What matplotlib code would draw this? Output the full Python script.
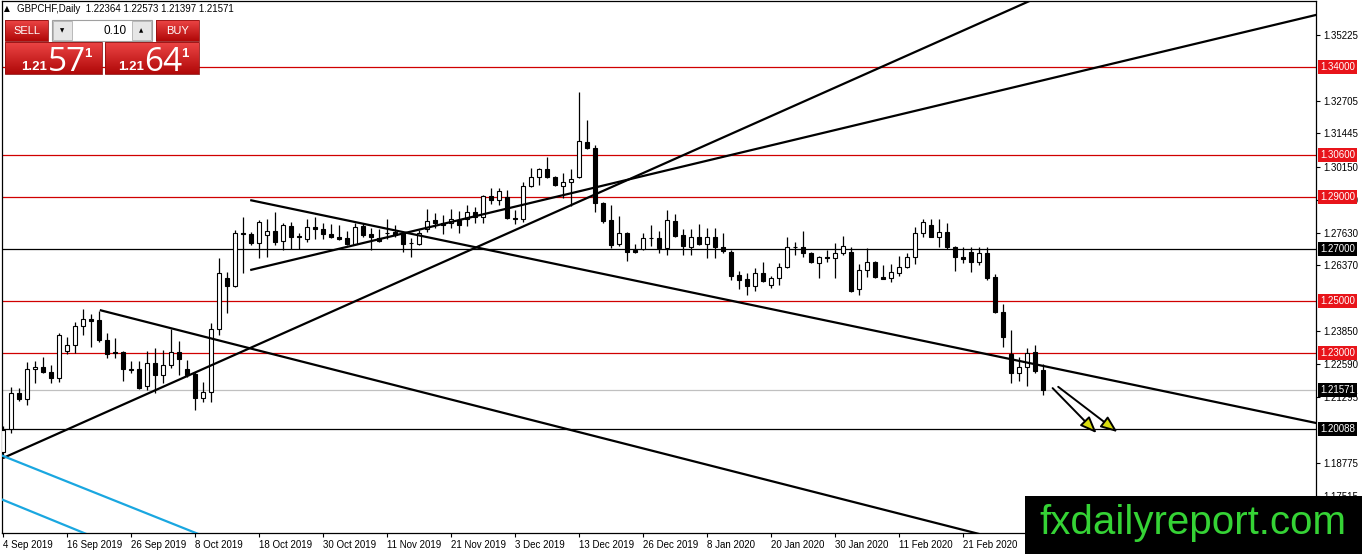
import matplotlib
matplotlib.use("Agg")
import matplotlib.pyplot as plt
import matplotlib.transforms as mtransforms
from matplotlib.patches import Rectangle, FancyArrowPatch, ArrowStyle
from matplotlib.colors import LinearSegmentedColormap
import numpy as np

plt.rcParams["font.family"] = ["Liberation Sans", "DejaVu Sans"]

SYMBOL = "GBPCHF,Daily"
HEADER_OHLC = "1.22364 1.22573 1.21397 1.21571"

# --- daily GBPCHF candles, 4 Sep 2019 .. early Mar 2020 ---
opens = [
    1.1919, 1.2008, 1.2146, 1.2123, 1.2238, 1.2246, 1.2227, 1.2204, 1.2308, 1.2331,
    1.2404, 1.2431, 1.2427, 1.2350, 1.2304, 1.2304, 1.2238, 1.2238, 1.2173, 1.2262,
    1.2215, 1.2254, 1.2304, 1.2238, 1.2219, 1.2127, 1.2150, 1.2392, 1.2588, 1.2558,
    1.2762, 1.2758, 1.2723, 1.2754, 1.2769, 1.2731, 1.2788, 1.2750, 1.2738, 1.2785,
    1.2777, 1.2758, 1.2746, 1.2742, 1.2719, 1.2788, 1.2758, 1.2742, 1.2762, 1.2765,
    1.2762, 1.2723, 1.2719, 1.2777, 1.2812, 1.2800, 1.2800, 1.2812, 1.2815, 1.2842,
    1.2823, 1.2904, 1.2888, 1.2900, 1.2819, 1.2815, 1.2942, 1.2977, 1.3008, 1.2977,
    1.2942, 1.2958, 1.2977, 1.3112, 1.3088, 1.2877, 1.2812, 1.2719, 1.2762, 1.2696,
    1.2700, 1.2742, 1.2742, 1.2704, 1.2808, 1.2754, 1.2708, 1.2746, 1.2719, 1.2746,
    1.2708, 1.2688, 1.2600, 1.2585, 1.2558, 1.2608, 1.2562, 1.2588, 1.2631, 1.2708,
    1.2708, 1.2685, 1.2646, 1.2669, 1.2665, 1.2685, 1.2688, 1.2546, 1.2619, 1.2650,
    1.2592, 1.2588, 1.2608, 1.2631, 1.2669, 1.2762, 1.2792, 1.2746, 1.2765, 1.2708,
    1.2669, 1.2688, 1.2650, 1.2685, 1.2592, 1.2458, 1.2296, 1.2223, 1.2246, 1.2304,
    1.22364,
]
highs = [
    1.2019, 1.2169, 1.2165, 1.2265, 1.2269, 1.2285, 1.2254, 1.2377, 1.2362, 1.2419,
    1.2469, 1.2450, 1.2462, 1.2377, 1.2358, 1.2308, 1.2269, 1.2269, 1.2308, 1.2319,
    1.2312, 1.2392, 1.2346, 1.2273, 1.2227, 1.2188, 1.2415, 1.2665, 1.2612, 1.2773,
    1.2823, 1.2765, 1.2812, 1.2815, 1.2842, 1.2800, 1.2804, 1.2762, 1.2815, 1.2823,
    1.2800, 1.2796, 1.2792, 1.2769, 1.2800, 1.2800, 1.2781, 1.2777, 1.2815, 1.2792,
    1.2765, 1.2742, 1.2773, 1.2854, 1.2838, 1.2831, 1.2854, 1.2846, 1.2869, 1.2862,
    1.2908, 1.2935, 1.2935, 1.2927, 1.2850, 1.2958, 1.3012, 1.3012, 1.3054, 1.2980,
    1.2992, 1.3008, 1.3304, 1.3196, 1.3100, 1.2881, 1.2869, 1.2827, 1.2765, 1.2719,
    1.2762, 1.2792, 1.2769, 1.2850, 1.2835, 1.2777, 1.2777, 1.2796, 1.2781, 1.2781,
    1.2762, 1.2696, 1.2615, 1.2608, 1.2627, 1.2650, 1.2596, 1.2646, 1.2746, 1.2727,
    1.2769, 1.2688, 1.2673, 1.2696, 1.2723, 1.2750, 1.2708, 1.2642, 1.2704, 1.2654,
    1.2638, 1.2642, 1.2673, 1.2685, 1.2785, 1.2815, 1.2815, 1.2815, 1.2800, 1.2712,
    1.2708, 1.2708, 1.2708, 1.2708, 1.2604, 1.2488, 1.2388, 1.2285, 1.2319, 1.2331,
    1.22573,
]
lows = [
    1.1896, 1.1992, 1.2115, 1.2100, 1.2185, 1.2223, 1.2185, 1.2188, 1.2296, 1.2300,
    1.2369, 1.2323, 1.2342, 1.2281, 1.2281, 1.2192, 1.2223, 1.2162, 1.2158, 1.2146,
    1.2185, 1.2242, 1.2215, 1.2208, 1.2081, 1.2112, 1.2112, 1.2369, 1.2454, 1.2555,
    1.2608, 1.2715, 1.2665, 1.2669, 1.2715, 1.2696, 1.2700, 1.2700, 1.2727, 1.2738,
    1.2738, 1.2742, 1.2736, 1.2715, 1.2715, 1.2746, 1.2696, 1.2727, 1.2738, 1.2746,
    1.2688, 1.2669, 1.2715, 1.2765, 1.2781, 1.2758, 1.2781, 1.2762, 1.2788, 1.2800,
    1.2800, 1.2873, 1.2869, 1.2815, 1.2796, 1.2804, 1.2938, 1.2946, 1.2973, 1.2942,
    1.2896, 1.2865, 1.2973, 1.3086, 1.2842, 1.2800, 1.2704, 1.2712, 1.2654, 1.2685,
    1.2696, 1.2712, 1.2685, 1.2677, 1.2746, 1.2677, 1.2677, 1.2715, 1.2665, 1.2665,
    1.2685, 1.2581, 1.2546, 1.2523, 1.2538, 1.2573, 1.2550, 1.2562, 1.2627, 1.2677,
    1.2669, 1.2646, 1.2588, 1.2650, 1.2588, 1.2677, 1.2535, 1.2523, 1.2592, 1.2588,
    1.2585, 1.2573, 1.2596, 1.2627, 1.2642, 1.2746, 1.2746, 1.2708, 1.2700, 1.2615,
    1.2646, 1.2612, 1.2638, 1.2581, 1.2454, 1.2323, 1.2185, 1.2192, 1.2173, 1.2223,
    1.21397,
]
closes = [
    1.2004, 1.2146, 1.2123, 1.2238, 1.2246, 1.2227, 1.2204, 1.2369, 1.2331, 1.2404,
    1.2431, 1.2423, 1.2350, 1.2296, 1.2300, 1.2238, 1.2235, 1.2165, 1.2262, 1.2215,
    1.2254, 1.2304, 1.2277, 1.2215, 1.2127, 1.2150, 1.2392, 1.2608, 1.2558, 1.2762,
    1.2758, 1.2723, 1.2804, 1.2769, 1.2727, 1.2792, 1.2746, 1.2746, 1.2785, 1.2777,
    1.2758, 1.2746, 1.2738, 1.2719, 1.2785, 1.2754, 1.2746, 1.2731, 1.2763, 1.2754,
    1.2719, 1.2722, 1.2762, 1.2808, 1.2800, 1.2792, 1.2815, 1.2792, 1.2842, 1.2823,
    1.2904, 1.2888, 1.2923, 1.2819, 1.2815, 1.2942, 1.2977, 1.3008, 1.2977, 1.2946,
    1.2958, 1.2969, 1.3115, 1.3090, 1.2877, 1.2808, 1.2715, 1.2762, 1.2688, 1.2688,
    1.2742, 1.2741, 1.2704, 1.2812, 1.2750, 1.2712, 1.2746, 1.2719, 1.2746, 1.2708,
    1.2692, 1.2596, 1.2581, 1.2558, 1.2608, 1.2577, 1.2588, 1.2631, 1.2708, 1.2707,
    1.2685, 1.2650, 1.2669, 1.2665, 1.2685, 1.2712, 1.2538, 1.2619, 1.2650, 1.2592,
    1.2585, 1.2612, 1.2631, 1.2669, 1.2762, 1.2804, 1.2746, 1.2765, 1.2708, 1.2669,
    1.2662, 1.2650, 1.2685, 1.2588, 1.2458, 1.2362, 1.2223, 1.2246, 1.2300, 1.2231,
    1.21571,
]

date_labels = ["4 Sep 2019", "16 Sep 2019", "26 Sep 2019", "8 Oct 2019", "18 Oct 2019",
               "30 Oct 2019", "11 Nov 2019", "21 Nov 2019", "3 Dec 2019", "13 Dec 2019",
               "26 Dec 2019", "8 Jan 2020", "20 Jan 2020", "30 Jan 2020", "11 Feb 2020",
               "21 Feb 2020"]
date_label_bars = [0, 8, 16, 24, 32, 40, 48, 56, 64, 72, 80, 88, 96, 104, 112, 120]

# scale labels that stay readable (the rest sit under the level boxes)
price_ticks = [1.35225, 1.32705, 1.31445, 1.30150, 1.28890, 1.27630, 1.26370,
               1.23850, 1.22590, 1.21295, 1.18775, 1.17515]

red_levels = [1.34000, 1.30600, 1.29000, 1.25000, 1.23000]
black_levels = [1.27000, 1.20088]
bid_level = 1.21571

# trend lines: (start bar, start price), (bar, price) on the line
black_rays = [
    ((0.0, 1.1896), (127.75, 1.3646)),
    ((30.9, 1.2619), (164.1, 1.3600)),
    ((30.9, 1.2888), (164.1, 1.2031)),
    ((12.1, 1.2465), (121.5, 1.1608)),
]
cyan_rays = [
    ((0.0, 1.1904), (24.0, 1.1609)),
    ((0.0, 1.1735), (10.1, 1.1608)),
]
arrows = [
    ((131.2, 1.2165), (136.7, 1.1992)),
    ((131.9, 1.2170), (139.3, 1.1996)),
]

W, H = 1362, 554
fig = plt.figure(figsize=(W / 100, H / 100), dpi=100, facecolor="white")
ax = fig.add_axes([2 / W, (H - 533) / H, 1314 / W, 532 / H])
ax.set_facecolor("white")
ax.set_xlim(-0.125, 164.125)
ax.set_ylim(1.16077, 1.36538)

red = "#d00000"
for lvl in red_levels:
    ax.axhline(lvl, color=red, lw=0.9, zorder=1)
for lvl in black_levels:
    ax.axhline(lvl, color="black", lw=0.9, zorder=1)
ax.axhline(bid_level, color="#c0c0c0", lw=0.9, zorder=1)

# candles
idx = np.arange(len(opens))
o = np.array(opens)
c = np.array(closes)
ax.vlines(idx, lows, highs, color="black", lw=0.9, zorder=2)
body_low = np.minimum(o, c)
body_h = np.maximum(np.abs(c - o), 0.00004)
body_col = ["white" if cc >= oo else "black" for oo, cc in zip(o, c)]
ax.bar(idx, body_h, bottom=body_low, width=0.6, color=body_col,
       edgecolor="black", linewidth=0.8, zorder=3)


def ray(p0, p1, x_from, x_to, **kw):
    slope = (p1[1] - p0[1]) / (p1[0] - p0[0])
    ax.plot([x_from, x_to],
            [p0[1] + slope * (x_from - p0[0]), p0[1] + slope * (x_to - p0[0])], **kw)


for p0, p1 in black_rays:
    ray(p0, p1, p0[0], 180, color="black", lw=1.6, zorder=4, solid_capstyle="butt")
for p0, p1 in cyan_rays:
    ray(p0, p1, -3, 40, color="#1aa7e0", lw=1.6, zorder=4)

for a, b in arrows:
    ax.add_patch(FancyArrowPatch(a, b, arrowstyle=ArrowStyle("-|>", head_length=1.0, head_width=0.4),
                                 mutation_scale=10, lw=1.4, edgecolor="black",
                                 facecolor="#d8dc10", shrinkA=0, shrinkB=0, zorder=5))

# axes look
for sp in ax.spines.values():
    sp.set_color("black")
    sp.set_linewidth(0.9)
ax.yaxis.tick_right()
ax.set_yticks(price_ticks)
ax.set_yticklabels([f"{v:.5f}" for v in price_ticks])
ax.set_xticks(date_label_bars)
ax.set_xticklabels(date_labels)
for lab in ax.get_xticklabels():
    lab.set_ha("left")
ax.tick_params(axis="both", length=3, width=0.8, labelsize=7, pad=2, colors="black")

mixed = mtransforms.blended_transform_factory(ax.transAxes, ax.transData)
label_x = 1.0 + 4 / 1314
for lvl in red_levels:
    ax.text(label_x, lvl, f"{lvl:.5f}", transform=mixed, ha="left", va="center",
            color="white", fontsize=7, zorder=6, clip_on=False,
            bbox=dict(boxstyle="square,pad=0.2", fc="#e8141a", ec="none"))
for lvl in black_levels + [bid_level]:
    ax.text(label_x, lvl, f"{lvl:.5f}", transform=mixed, ha="left", va="center",
            color="white", fontsize=7, zorder=6, clip_on=False,
            bbox=dict(boxstyle="square,pad=0.2", fc="black", ec="none"))

# --- overlay in pixel coordinates: header, trade panel, watermark ---
ui = fig.add_axes([0, 0, 1, 1], zorder=10)
ui.set_facecolor("none")
ui.axis("off")

ui.text(4, 9, "\u25b2", fontsize=5.5, va="center", ha="left", family=["DejaVu Sans"])
ui.text(17, 9, f"{SYMBOL}  {HEADER_OHLC}", fontsize=7, va="center", ha="left")

red_cmap = LinearSegmentedColormap.from_list("btn", ["#ec4545", "#b00808"])
grad = np.linspace(0, 1, 64).reshape(-1, 1)


def red_box(x0, y0, x1, y1):
    ui.imshow(grad, extent=(x0, x1, y1, y0), cmap=red_cmap, aspect="auto", zorder=1)
    ui.add_patch(Rectangle((x0, y0), x1 - x0, y1 - y0, fill=False, ec="#901010", lw=0.6, zorder=2))


red_box(5, 20, 48, 41)
red_box(156, 20, 199, 41)
red_box(5, 42, 102, 74)
red_box(105, 42, 199, 74)
ui.text(26.5, 31, "SELL", color="white", fontsize=8, ha="center", va="center", zorder=3)
ui.text(177.5, 31, "BUY", color="white", fontsize=8, ha="center", va="center", zorder=3)

ui.add_patch(Rectangle((52, 20), 100, 21, fc="white", ec="#a0a0a0", lw=0.8, zorder=2))
ui.add_patch(Rectangle((53, 21), 19, 19, fc="#e6e6e6", ec="#b0b0b0", lw=0.6, zorder=3))
ui.add_patch(Rectangle((132, 21), 19, 19, fc="#e6e6e6", ec="#b0b0b0", lw=0.6, zorder=3))
ui.text(62.5, 31, "\u25bc", fontsize=4, ha="center", va="center", family=["DejaVu Sans"], zorder=4)
ui.text(141.5, 31, "\u25b2", fontsize=4, ha="center", va="center", family=["DejaVu Sans"], zorder=4)
ui.text(127, 31, "0.10", fontsize=8.5, ha="right", va="center", zorder=4)

for x_small, x_big, x_sup, big in [(21, 48, 84, "57"), (118, 144, 181, "64")]:
    ui.text(x_small, 70, "1.21", color="white", fontsize=9.5, fontweight="bold",
            ha="left", va="baseline", zorder=3)
    ui.text(x_big, 71, big, color="white", fontsize=24, ha="left", va="baseline",
            family=["Open Sans", "DejaVu Sans"], zorder=3)
    ui.text(x_sup, 57, "1", color="white", fontsize=9.5, fontweight="bold",
            ha="left", va="baseline", zorder=3)

ui.add_patch(Rectangle((1025, 496), W - 1025, H - 496, fc="black", ec="none", zorder=5))
ui.text(1193, 523, "fxdailyreport.com", color="#35d335", fontsize=29, ha="center",
        va="center", zorder=6)

ui.set_xlim(0, W)
ui.set_ylim(H, 0)

fig.savefig("out.png", dpi=100, facecolor="white")
